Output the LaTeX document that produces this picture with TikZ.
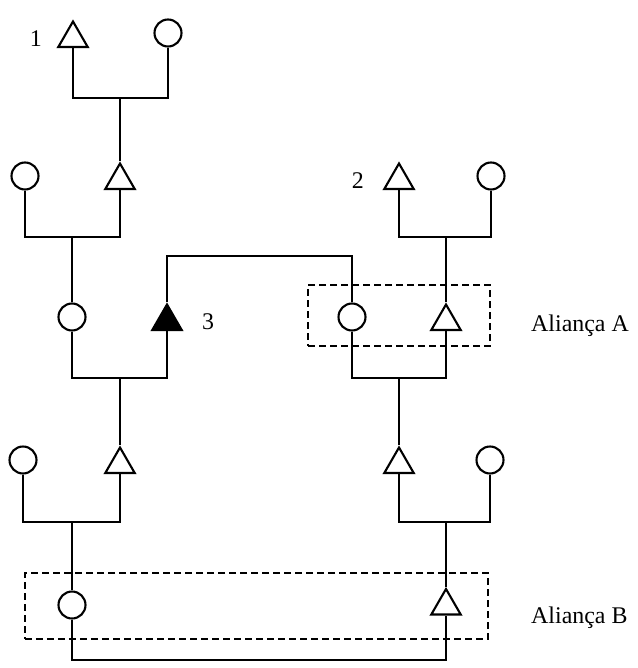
\documentclass[tikz,border=0pt]{standalone}
\usepackage{fontspec}
\setmainfont{Liberation Serif}
\usetikzlibrary{shapes.geometric,positioning}
\tikzset{
  male/.style={draw=black,line width=2.1bp,regular polygon,regular polygon sides=3,
               minimum size=34bp,inner sep=0pt},
  female/.style={draw=black,line width=2.1bp,circle,minimum size=27bp,inner sep=0pt},
  ego/.style={male,fill=black},
  kin/.style={draw=black,line width=2.1bp},
  alliance/.style={draw=black,line width=1.8bp,dash pattern=on 7bp off 4bp,inner sep=0pt},
  tag/.style={font=\fontsize{24}{27}\selectfont,inner sep=0pt}
}

\begin{document}
\begin{tikzpicture}[x=1bp,y=-1bp]
  \useasboundingbox (0,0) rectangle (638,668);

  % first couple
  \node[male] (one) at (73,38.5) {};
  \node[female] (w1) at (168,33) {};
  \coordinate (u1) at (120,98);
  \node[tag,left=20bp of one] {1};

  % second generation
  \node[female] (d2) at (25,176) {};
  \node[male] (s2) at (120,180.5) {};
  \node[male] (two) at (399,180.5) {};
  \node[female] (w2) at (491,176) {};
  \coordinate (u2) at (72,237);
  \coordinate (u2r) at (446,237);
  \node[tag,left=24bp of two] {2};

  % third generation
  \node[female] (d3) at (72,317) {};
  \node[ego] (three) at (167,321.5) {};
  \node[female] (d3r) at (352,317) {};
  \node[male] (s3r) at (446,321.5) {};
  \coordinate (u3) at (120,378);
  \coordinate (u3r) at (399,378);
  \coordinate (lk) at (260,256);
  \node[tag,right=24bp of three] {3};

  % fourth generation
  \node[female] (d4) at (23,460) {};
  \node[male] (s4) at (120,464.5) {};
  \node[male] (s4r) at (399,464.5) {};
  \node[female] (d4r) at (490,460) {};
  \coordinate (u4) at (72,522);
  \coordinate (u4r) at (446,522);

  % fifth generation
  \node[female] (d5) at (72,605) {};
  \node[male] (s5r) at (446,606) {};
  \coordinate (lb) at (260,660);

  % alliances
  \node[alliance,minimum width=182bp,minimum height=61bp] (allyA) at (399,315.5) {};
  \node[alliance,minimum width=463bp,minimum height=66bp] (allyB) at (256.5,606) {};
  \node[tag,anchor=base west] (tagA) at (531,331) {Aliança A};
  \node[tag,anchor=base west] (tagB) at (531,623) {Aliança B};

  \draw[kin] (one.south) |- (u1) -| (w1.south);
  \draw[kin] (u1) -- (s2.north);
  \draw[kin] (d2.south) |- (u2) -| (s2.south);
  \draw[kin] (two.south) |- (u2r) -| (w2.south);
  \draw[kin] (u2) -- (d3.north);
  \draw[kin] (u2r) -- (s3r.north);
  \draw[kin] (three.north) |- (lk) -| (d3r.north);
  \draw[kin] (d3.south) |- (u3) -| (three.south);
  \draw[kin] (d3r.south) |- (u3r) -| (s3r.south);
  \draw[kin] (u3) -- (s4.north);
  \draw[kin] (u3r) -- (s4r.north);
  \draw[kin] (d4.south) |- (u4) -| (s4.south);
  \draw[kin] (s4r.south) |- (u4r) -| (d4r.south);
  \draw[kin] (u4) -- (d5.north);
  \draw[kin] (u4r) -- (s5r.north);
  \draw[kin] (d5.south) |- (lb) -| (s5r.south);
\end{tikzpicture}
\end{document}
